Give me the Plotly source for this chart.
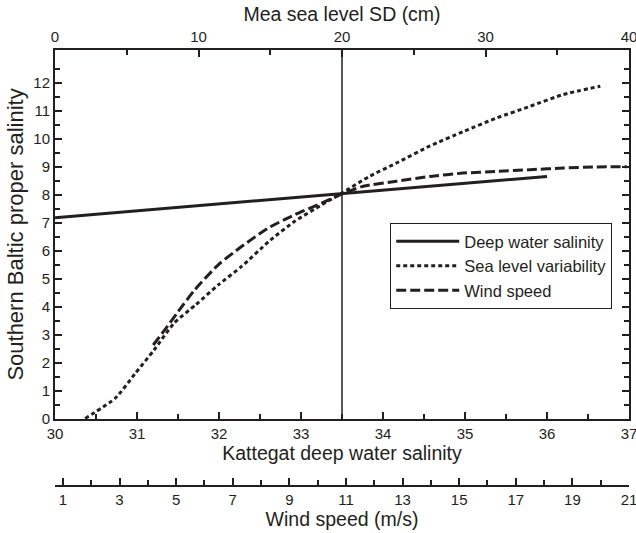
import plotly.graph_objects as go

# ---- data ----
# Deep water salinity vs Kattegat deep water salinity (bottom axis)
deep_x = [30.0, 36.0]
deep_y = [7.18, 8.65]

# Sea level variability vs Mean sea level SD (cm) (top axis)
sea_x = [2.1, 4.2, 5.6, 6.9, 8.3, 9.8, 11.4, 13.0, 14.9, 16.7, 18.6, 20.0,
         21.9, 23.8, 26.1, 28.5, 30.8, 33.1, 35.4, 38.0]
sea_y = [0.02, 0.74, 1.63, 2.46, 3.42, 4.07, 4.79, 5.44, 6.33, 7.05, 7.64, 8.06,
         8.65, 9.13, 9.73, 10.26, 10.74, 11.15, 11.57, 11.87]

# Wind speed vs Wind speed (m/s) (lower separate axis)
wind_x = [4.19, 4.6, 5.07, 5.66, 6.49, 7.31, 8.25, 9.2, 10.14, 10.85,
          11.61, 12.79, 13.97, 15.14, 16.32, 17.5, 18.68, 19.86, 20.92]
wind_y = [2.64, 3.18, 3.83, 4.61, 5.5, 6.15, 6.81, 7.29, 7.7, 8.02,
          8.3, 8.48, 8.65, 8.77, 8.83, 8.89, 8.95, 8.99, 9.0]

ref_x = 33.5

y_ticks = list(range(0, 13))
y_minor = [v + 0.5 for v in range(0, 13)]

INK = "#231f20"
FONT = "Liberation Sans, Arial, Helvetica, sans-serif"

fig = go.Figure()
fig.add_trace(go.Scatter(x=deep_x, y=deep_y, mode="lines", name="Deep water salinity",
                         line=dict(color=INK, width=3), xaxis="x", yaxis="y"))
fig.add_trace(go.Scatter(x=sea_x, y=sea_y, mode="lines", name="Sea level variability",
                         line=dict(color=INK, width=3, dash="4px,3px", shape="spline", smoothing=0.6),
                         xaxis="x2", yaxis="y"))
fig.add_trace(go.Scatter(x=wind_x, y=wind_y, mode="lines", name="Wind speed",
                         line=dict(color=INK, width=3, dash="10px,4px", shape="spline", smoothing=0.6),
                         xaxis="x3", yaxis="y"))

fig.add_shape(type="line", x0=ref_x, x1=ref_x, xref="x", y0=0, y1=1, yref="y domain",
              line=dict(color=INK, width=1.5))

tickfont = dict(family=FONT, size=15, color=INK)
titlefont = dict(family=FONT, size=19.5, color=INK)

common = dict(showgrid=False, zeroline=False, showline=True, linecolor=INK, linewidth=2,
              ticks="inside", tickcolor=INK, tickwidth=1.5, ticklen=7, tickfont=tickfont,
              automargin=False, ticklabeloverflow="allow")

fig.update_layout(
    width=636, height=533,
    margin=dict(l=55, r=7, t=50, b=47),
    paper_bgcolor="white", plot_bgcolor="white",
    font=dict(family=FONT, color=INK),
    xaxis=dict(range=[30, 37], tickmode="linear", tick0=30, dtick=1,
               minor=dict(dtick=0.5, ticks="inside", ticklen=5, tickcolor=INK, tickwidth=1.5),
               title=dict(text="Kattegat deep water salinity", font=titlefont, standoff=4),
               anchor="y", **common),
    xaxis2=dict(range=[0, 40], tickmode="linear", tick0=0, dtick=10,
                minor=dict(dtick=5, ticks="inside", ticklen=5, tickcolor=INK, tickwidth=1.5),
                title=dict(text="Mea sea level SD (cm)", font=titlefont, standoff=1),
                overlaying="x", side="top", anchor="y", **common),
    xaxis3=dict(range=[0.72, 21], tickmode="linear", tick0=1, dtick=2,
                minor=dict(dtick=1, ticks="inside", ticklen=5, tickcolor=INK, tickwidth=1.5),
                title=dict(text="Wind speed (m/s)", font=titlefont, standoff=2),
                overlaying="x", side="bottom", anchor="free", position=0, **common),
    yaxis=dict(range=[0, 13.16], domain=[0.1537, 1], tickmode="array", tickvals=y_ticks,
               minor=dict(tickvals=y_minor, ticks="inside", ticklen=5, tickcolor=INK, tickwidth=1.5),
               mirror="ticks",
               title=dict(text="Southern Baltic proper salinity", font=dict(family=FONT, size=22, color=INK),
                          standoff=4),
               **common),
    legend=dict(x=0.584, y=0.603, xanchor="left", yanchor="top",
                bordercolor=INK, borderwidth=1, bgcolor="white",
                font=dict(family=FONT, size=16.5, color=INK), itemwidth=63,
                tracegroupgap=0),
    showlegend=True,
)

fig.write_html("out.html")
